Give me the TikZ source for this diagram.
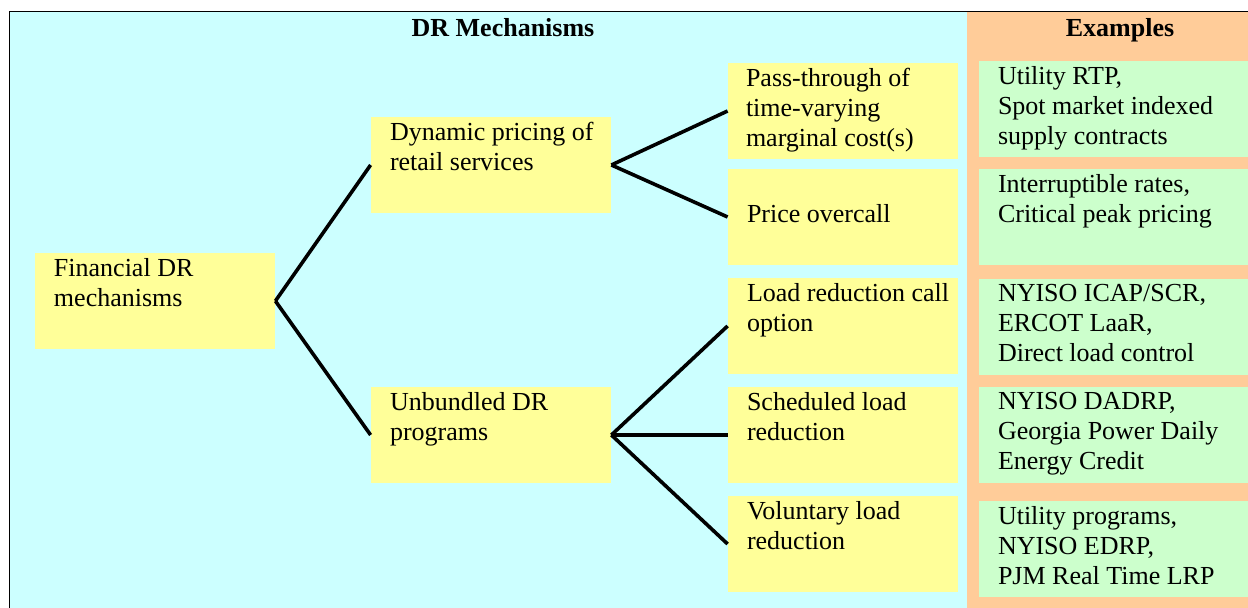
\documentclass[tikz,border=0pt]{standalone}
\usepackage{fontspec}
\setmainfont{LiberationSerif}[Extension=.ttf, UprightFont=*-Regular, BoldFont=*-Bold, ItalicFont=*-Italic, BoldItalicFont=*-BoldItalic]
\definecolor{bgcyan}{RGB}{204,255,255}
\definecolor{bgorange}{RGB}{255,204,153}
\definecolor{boxyellow}{RGB}{255,255,153}
\definecolor{boxgreen}{RGB}{204,255,204}
\begin{document}
\begin{tikzpicture}[x=0.5pt,y=-0.5pt,
  ybox/.style={fill=boxyellow, minimum height=48pt, inner sep=0pt},
  gbox/.style={fill=boxgreen, minimum width=134.5pt, minimum height=48pt, inner sep=0pt},
  txt/.style={anchor=north west, align=left, inner sep=0pt, font=\fontsize{13}{15}\selectfont},
  head/.style={anchor=base, inner sep=0pt, font=\bfseries\fontsize{13}{15}\selectfont},
  link/.style={line width=1.8pt}]
\useasboundingbox (0,0) rectangle (1248,608);
% background panels
\fill[bgcyan] (10,12) rectangle (967,608);
\fill[bgorange] (967,12) rectangle (1248,608);
\draw[line width=0.75pt] (9.5,608) -- (9.5,11.5) -- (1248,11.5);
\node[head] (mechhead) at (503,37) {DR Mechanisms};
\node[head] (exhead) at (1120,37) {Examples};
% mechanism boxes
\node[ybox, minimum width=120pt] (fin) at (155,301) {};
\node[ybox, minimum width=120pt] (dyn) at (491,165) {};
\node[ybox, minimum width=120pt] (unb) at (491,435) {};
\node[ybox, minimum width=115pt] (pass) at (843,111) {};
\node[ybox, minimum width=115pt] (price) at (843,217) {};
\node[ybox, minimum width=115pt] (call) at (843,326) {};
\node[ybox, minimum width=115pt] (sched) at (843,435) {};
\node[ybox, minimum width=115pt] (vol) at (843,544) {};
\node[txt] (fintxt) at ([shift={(19,5)}]fin.north west) {Financial DR\\mechanisms};
\node[txt] (dyntxt) at ([shift={(19,5)}]dyn.north west) {Dynamic pricing of\\retail services};
\node[txt] (unbtxt) at ([shift={(19,5)}]unb.north west) {Unbundled DR\\programs};
\node[txt] (passtxt) at ([shift={(18,5)}]pass.north west) {Pass-through of\\time-varying\\marginal cost(s)};
\node[txt] (pricetxt) at ([shift={(19,35)}]price.north west) {Price overcall};
\node[txt] (calltxt) at ([shift={(19,5)}]call.north west) {Load reduction call\\option};
\node[txt] (schedtxt) at ([shift={(19,5)}]sched.north west) {Scheduled load\\reduction};
\node[txt] (voltxt) at ([shift={(19,5)}]vol.north west) {Voluntary load\\reduction};
% example boxes
\node[gbox] (ex1) at (1113.5,109) {};
\node[gbox] (ex2) at (1113.5,217) {};
\node[gbox] (ex3) at (1113.5,327) {};
\node[gbox] (ex4) at (1113.5,435) {};
\node[gbox] (ex5) at (1113.5,549) {};
\node[txt] (ex1txt) at ([shift={(19,5)}]ex1.north west) {Utility RTP,\\Spot market indexed\\supply contracts};
\node[txt] (ex2txt) at ([shift={(19,5)}]ex2.north west) {Interruptible rates,\\Critical peak pricing};
\node[txt] (ex3txt) at ([shift={(19,5)}]ex3.north west) {NYISO ICAP/SCR,\\ERCOT LaaR,\\Direct load control};
\node[txt] (ex4txt) at ([shift={(19,5)}]ex4.north west) {NYISO DADRP,\\Georgia Power Daily\\Energy Credit};
\node[txt] (ex5txt) at ([shift={(19,5)}]ex5.north west) {Utility programs,\\NYISO EDRP,\\PJM Real Time LRP};
% tree links
\draw[link] (fin.east) -- (dyn.west);
\draw[link] (fin.east) -- (unb.west);
\draw[link] (dyn.east) -- (pass.west);
\draw[link] (dyn.east) -- (price.west);
\draw[link] (unb.east) -- (call.west);
\draw[link] (unb.east) -- (sched.west);
\draw[link] (unb.east) -- (vol.west);
\end{tikzpicture}
\end{document}
